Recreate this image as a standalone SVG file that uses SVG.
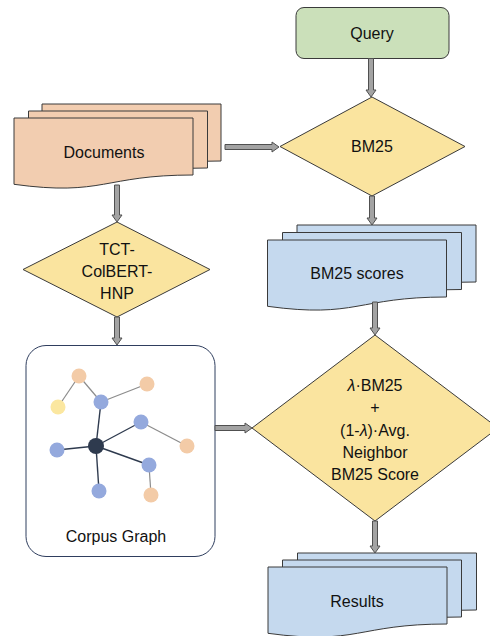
<svg xmlns="http://www.w3.org/2000/svg" xmlns:xlink="http://www.w3.org/1999/xlink" width="490" height="636" viewBox="0 0 490 636">
  <defs>
    <style>
      .lbl { font-family: "Liberation Sans", Arial, sans-serif; font-size: 16px; fill: #111; text-anchor: middle; dominant-baseline: central; }
      .shape { stroke: #3a3a3a; stroke-width: 1; }
      .orange { fill: #F2CDB0; }
      .blue { fill: #C5D9EE; }
      .gold { fill: #FAE49F; }
      .green { fill: #CBE0BA; }
      .arrow { fill: #A3A3A3; stroke: #505050; stroke-width: 1; stroke-linejoin: miter; }
      .edge-in { stroke: #2E3A4E; stroke-width: 1.4; }
      .edge-out { stroke: #8C8C8C; stroke-width: 1.2; }
      .n-peach { fill: #F3CBA7; }
      .n-yellow { fill: #FBE7A0; }
      .n-blue { fill: #94A9DD; }
      .n-dark { fill: #2E3A4E; }
    </style>
    <!-- flowchart "document" shape: flat top, wavy bottom -->
    <path id="doc" d="M0,0 H179 V57 C89.5,57 89.5,78.6 0,66.3 Z"/>
  </defs>

  <!-- Query -->
  <g id="query">
    <rect class="shape green" x="296" y="7.5" width="153" height="51" rx="8"/>
    <text class="lbl" x="372" y="33">Query</text>
  </g>

  <!-- BM25 decision -->
  <g id="bm25">
    <polygon class="shape gold" points="372,97 465,146.5 372,196 280,146.5"/>
    <text class="lbl" x="372" y="146.5">BM25</text>
  </g>

  <!-- Documents stack -->
  <g id="documents">
    <use xlink:href="#doc" class="shape orange" x="42" y="104"/>
    <use xlink:href="#doc" class="shape orange" x="28.5" y="111"/>
    <use xlink:href="#doc" class="shape orange" x="14" y="118"/>
    <text class="lbl" x="104" y="152">Documents</text>
  </g>

  <!-- BM25 scores stack -->
  <g id="bm25-scores">
    <use xlink:href="#doc" class="shape blue" x="297" y="225"/>
    <use xlink:href="#doc" class="shape blue" x="282.5" y="232.5"/>
    <use xlink:href="#doc" class="shape blue" x="267.5" y="240"/>
    <text class="lbl" x="357" y="273">BM25 scores</text>
  </g>

  <!-- TCT-ColBERT-HNP decision -->
  <g id="tct-colbert">
    <polygon class="shape gold" points="117,222 210,269.5 117,317 23,269.5"/>
    <text class="lbl" x="117" y="249">TCT-</text>
    <text class="lbl" x="117" y="271">ColBERT-</text>
    <text class="lbl" x="117" y="293">HNP</text>
  </g>

  <!-- Corpus graph -->
  <g id="corpus-graph">
    <rect x="26" y="345.5" width="189" height="211" rx="20" fill="#FFFFFF" stroke="#2F3E5E" stroke-width="1"/>
    <g>
      <line class="edge-out" x1="79" y1="376" x2="58" y2="407"/>
      <line class="edge-out" x1="79" y1="376" x2="101" y2="402"/>
      <line class="edge-out" x1="101" y1="402" x2="147" y2="384"/>
      <line class="edge-out" x1="141" y1="422" x2="187" y2="446"/>
      <line class="edge-out" x1="149" y1="465" x2="151" y2="495"/>
      <line class="edge-in" x1="96" y1="446" x2="101" y2="402"/>
      <line class="edge-in" x1="96" y1="446" x2="141" y2="422"/>
      <line class="edge-in" x1="96" y1="446" x2="57" y2="450"/>
      <line class="edge-in" x1="96" y1="446" x2="149" y2="465"/>
      <line class="edge-in" x1="96" y1="446" x2="99" y2="491"/>
    </g>
    <g>
      <circle class="n-peach" cx="79" cy="376" r="7.5"/>
      <circle class="n-yellow" cx="58" cy="407" r="7.5"/>
      <circle class="n-blue" cx="101" cy="402" r="7.5"/>
      <circle class="n-peach" cx="147" cy="384" r="7.5"/>
      <circle class="n-blue" cx="141" cy="422" r="7.5"/>
      <circle class="n-peach" cx="187" cy="446" r="7.5"/>
      <circle class="n-blue" cx="57" cy="450" r="7.5"/>
      <circle class="n-blue" cx="149" cy="465" r="7.5"/>
      <circle class="n-peach" cx="151" cy="495" r="7.5"/>
      <circle class="n-blue" cx="99" cy="491" r="7.5"/>
      <circle class="n-dark" cx="96" cy="446" r="8"/>
    </g>
    <text class="lbl" x="116" y="536">Corpus Graph</text>
  </g>

  <!-- Score interpolation decision -->
  <g id="interpolation">
    <polygon class="shape gold" points="375,335 498,428 375,521 252,428"/>
    <text class="lbl" x="375" y="385"><tspan font-style="italic">λ</tspan>·BM25</text>
    <text class="lbl" x="375" y="407">+</text>
    <text class="lbl" x="375" y="430">(1-<tspan font-style="italic">λ</tspan>)·Avg.</text>
    <text class="lbl" x="375" y="452">Neighbor</text>
    <text class="lbl" x="375" y="474">BM25 Score</text>
  </g>

  <!-- Results stack -->
  <g id="results">
    <use xlink:href="#doc" class="shape blue" x="297.5" y="553"/>
    <use xlink:href="#doc" class="shape blue" x="282.5" y="560"/>
    <use xlink:href="#doc" class="shape blue" x="268" y="567"/>
    <text class="lbl" x="357" y="601">Results</text>
  </g>

  <!-- Connectors: block arrows -->
  <g id="connectors">
    <!-- Query -> BM25 -->
    <polygon class="arrow" points="368.5,58.5 373.5,58.5 373.5,90 376,90 371,97 366,90 368.5,90"/>
    <!-- BM25 -> BM25 scores -->
    <polygon class="arrow" points="369.5,196 374.5,196 374.5,218 377,218 372,225 367,218 369.5,218"/>
    <!-- BM25 scores -> interpolation -->
    <polygon class="arrow" points="372.5,302 377.5,302 377.5,328 380,328 375,335 370,328 372.5,328"/>
    <!-- interpolation -> Results -->
    <polygon class="arrow" points="372.5,521 377.5,521 377.5,546 380,546 375,553 370,546 372.5,546"/>
    <!-- Documents -> TCT-ColBERT-HNP -->
    <polygon class="arrow" points="114.5,185 119.5,185 119.5,215 122,215 117,222 112,215 114.5,215"/>
    <!-- TCT-ColBERT-HNP -> Corpus graph -->
    <polygon class="arrow" points="114.5,317 119.5,317 119.5,338 122,338 117,345 112,338 114.5,338"/>
    <!-- Documents -> BM25 -->
    <polygon class="arrow" points="225,144.5 225,149.5 272,149.5 272,152 279,147 272,142 272,144.5"/>
    <!-- Corpus graph -> interpolation -->
    <polygon class="arrow" points="215,425.5 215,430.5 245,430.5 245,433 252,428 245,423 245,425.5"/>
  </g>
</svg>
